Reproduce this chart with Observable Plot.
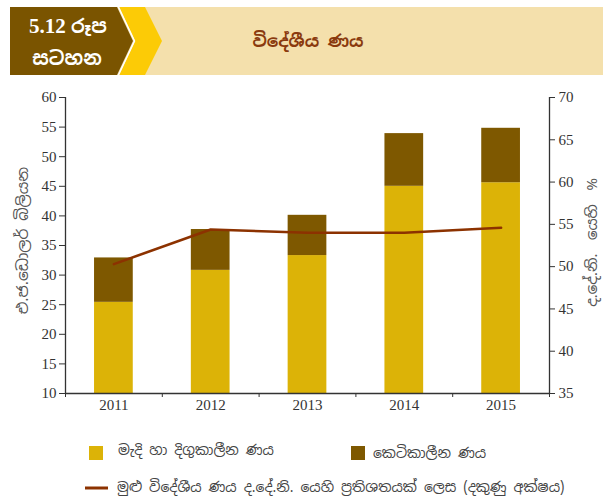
<!DOCTYPE html>
<html><head><meta charset="utf-8">
<script src="https://cdn.jsdelivr.net/npm/d3@7"></script>
<script src="https://cdn.jsdelivr.net/npm/@observablehq/plot@0.6"></script>
<style>
html,body{margin:0;padding:0;background:#fff;width:603px;height:503px;overflow:hidden}
#wrap{position:relative;width:603px;height:503px}
#header{position:absolute;left:0;top:0}
#chart{position:absolute;left:0;top:80px}
#legend{position:absolute;left:0;top:420px}
.si{font-family:"Noto Sans Sinhala","Iskoola Pota","Noto Serif Sinhala",sans-serif}
</style></head><body><div id="wrap">
<svg id="header" width="603" height="80">
  <rect x="10" y="7" width="593" height="68" fill="#F4E0AC"/>
  <polygon points="119,7 145,7 162,41 145,75 119,75 135,41" fill="#FCCB06"/>
  <polygon points="10,7 117,7 133,41 117,75 10,75" fill="#7A5400"/>
  <polyline points="118,6 134.5,41 118,76" fill="none" stroke="#fff" stroke-width="1.5"/>
  <text x="68" y="33" text-anchor="middle" fill="#fff" font-weight="bold" font-size="21" font-family="'Liberation Serif',serif">5.12 <tspan class="si" font-size="19">රූප</tspan></text>
  <text class="si" x="67" y="65" text-anchor="middle" fill="#fff" font-weight="bold" font-size="19">සටහන</text>
  <text class="si" x="308" y="47" text-anchor="middle" fill="#8A3A0E" font-weight="bold" font-size="17">විදේශීය ණය</text>
</svg>
<div id="chart"></div>
<svg id="legend" width="603" height="83"></svg>
</div>
<script>
const years = [2011, 2012, 2013, 2014, 2015];
const longTerm = [25.4, 30.8, 33.3, 45.0, 45.6];
const shortTerm = [7.5, 6.9, 6.8, 8.9, 9.2];
const debtPctGDP = [50.3, 54.4, 54.0, 54.0, 54.6];
const leftTicks = [10, 15, 20, 25, 30, 35, 40, 45, 50, 55, 60];
const rightTicks = [35, 40, 45, 50, 55, 60, 65, 70];
const yearBounds = [2010.5, 2011.5, 2012.5, 2013.5, 2014.5, 2015.5];
const seriesNames = ["මැදි හා දිගුකාලීන ණය", "කෙටිකාලීන ණය", "මුළු විදේශීය ණය ද.දේ.නි. යෙහි ප්‍රතිශතයක් ලෙස (දකුණු අක්ෂය)"];
const leftLabel = "එ.ජ.ඩොලර් බිලියන";
const rightLabel = "ද.දේ.නි. යෙහි %";

const yellow = "#DCB307", brown = "#7E5800", lineColor = "#8C3200", axisColor = "#333";
const siFont = "'Noto Sans Sinhala','Iskoola Pota','Noto Serif Sinhala',sans-serif";

const rows = years.map((y, i) => ({year: y, lt: longTerm[i], st: shortTerm[i], pct: debtPctGDP[i]}));
const toLeft = p => 10 + (p - 35) * 50 / 35;
const fromLeft = v => Math.round(35 + (v - 10) * 35 / 50);

const plot = Plot.plot({
  width: 603, height: 340,
  marginLeft: 65, marginRight: 54, marginTop: 17, marginBottom: 27,
  style: {fontFamily: "'Liberation Serif', serif", fontSize: "15px", color: axisColor, background: "transparent"},
  x: {type: "linear", domain: [2010.5, 2015.5]},
  y: {domain: [10, 60]},
  marks: [
    Plot.rectY(rows, {x1: d => d.year - 0.2, x2: d => d.year + 0.2, y1: 0, y2: "lt", fill: yellow, clip: true}),
    Plot.rectY(rows, {x1: d => d.year - 0.2, x2: d => d.year + 0.2, y1: "lt", y2: d => d.lt + d.st, fill: brown}),
    Plot.line(rows, {x: "year", y: d => toLeft(d.pct), stroke: lineColor, strokeWidth: 2.6}),
    Plot.ruleX([2010.5, 2015.5], {y1: 10, y2: 60, stroke: axisColor, strokeWidth: 1.3}),
    Plot.ruleY([10], {stroke: axisColor, strokeWidth: 1.3}),
    Plot.axisY(leftTicks, {anchor: "left", tickSize: 6, tickPadding: 3, label: null, fontSize: 15, tickFormat: d => String(d), stroke: axisColor}),
    Plot.axisY(rightTicks.map(toLeft), {anchor: "right", tickSize: 5, tickPadding: 4, label: null, fontSize: 15, tickFormat: d => String(fromLeft(d)), stroke: axisColor}),
    Plot.axisX(yearBounds, {anchor: "bottom", tickSize: 4, tickFormat: () => "", label: null, stroke: axisColor}),
    Plot.axisX(years, {anchor: "bottom", tickSize: 0, tickPadding: 6, tickFormat: d => String(d), label: null, fontSize: 15}),
    Plot.text([leftLabel], {frameAnchor: "left", textAnchor: "middle", dx: -42.5, dy: -5, rotate: -90, fontSize: 15.5, fill: "#555", fontFamily: siFont}),
    Plot.text([rightLabel], {frameAnchor: "right", textAnchor: "middle", dx: 43, dy: -3, rotate: -90, fontSize: 15, fill: "#555", fontFamily: siFont, className: "rlabel"})
  ]
});
d3.select(plot).selectAll(".rlabel text").attr("word-spacing", "6px");
document.getElementById("chart").appendChild(plot);

const lg = d3.select("#legend");
lg.append("rect").attr("x", 89).attr("y", 26).attr("width", 14).attr("height", 14).attr("fill", yellow);
lg.append("text").attr("x", 118).attr("y", 31).attr("dominant-baseline", "middle").attr("class", "si").attr("font-size", 14).attr("fill", "#444").text(seriesNames[0]);
lg.append("rect").attr("x", 351).attr("y", 26).attr("width", 14).attr("height", 14).attr("fill", brown);
lg.append("text").attr("x", 373).attr("y", 34).attr("dominant-baseline", "middle").attr("class", "si").attr("font-size", 14).attr("fill", "#444").text(seriesNames[1]);
lg.append("line").attr("x1", 85).attr("x2", 108).attr("y1", 68).attr("y2", 68).attr("stroke", lineColor).attr("stroke-width", 3);
lg.append("text").attr("x", 117).attr("y", 68).attr("dominant-baseline", "middle").attr("class", "si").attr("font-size", 14).attr("fill", "#444").text(seriesNames[2]);
</script>
</body></html>
